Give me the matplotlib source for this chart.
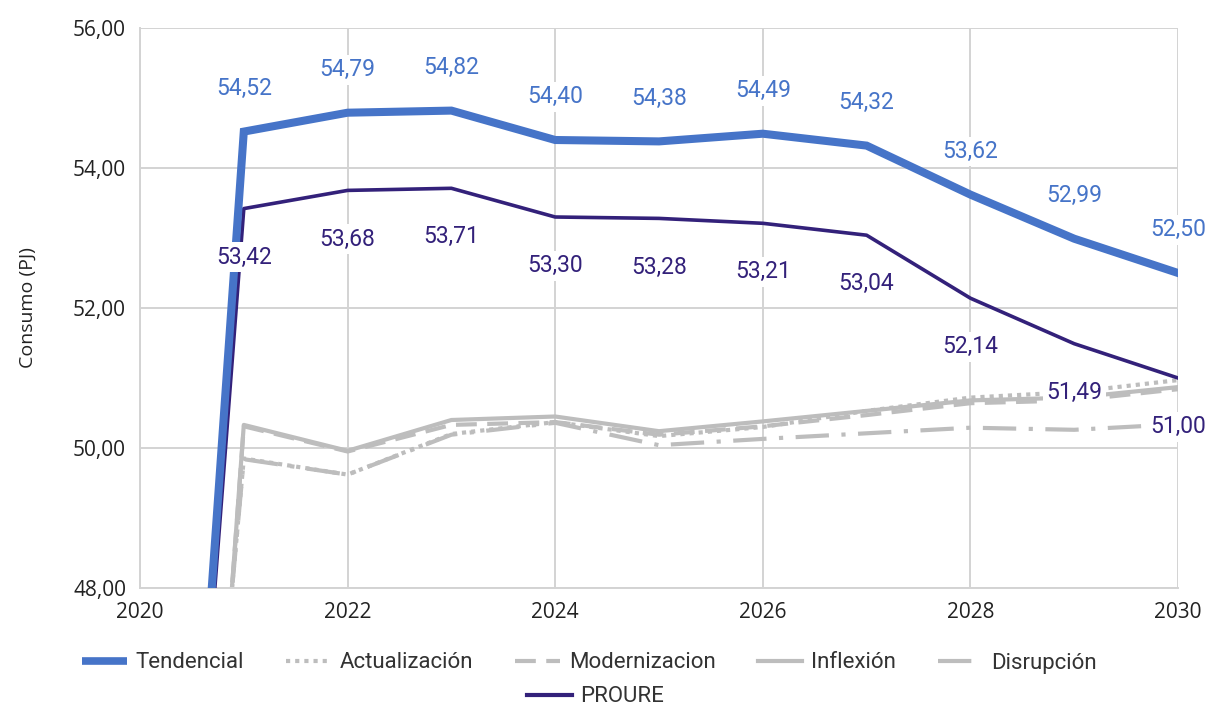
import matplotlib
matplotlib.use("Agg")
import matplotlib.pyplot as plt
from matplotlib.lines import Line2D
from matplotlib.ticker import FuncFormatter, MultipleLocator

# Consumo proyectado por escenario (PJ)
years = [2020, 2021, 2022, 2023, 2024, 2025, 2026, 2027, 2028, 2029, 2030]
tendencial = [33.4, 54.52, 54.79, 54.82, 54.40, 54.38, 54.49, 54.32, 53.62, 52.99, 52.50]
proure = [34.0, 53.42, 53.68, 53.71, 53.30, 53.28, 53.21, 53.04, 52.14, 51.49, 51.00]
actualizacion = [33.5, 49.85, 49.62, 50.20, 50.37, 50.17, 50.30, 50.53, 50.72, 50.80, 50.97]
modernizacion = [30.0, 50.31, 49.95, 50.33, 50.37, 50.19, 50.31, 50.47, 50.64, 50.68, 50.84]
inflexion = [30.0, 50.33, 49.96, 50.40, 50.45, 50.24, 50.38, 50.53, 50.68, 50.72, 50.87]
disrupcion = [33.5, 49.84, 49.62, 50.19, 50.36, 50.04, 50.13, 50.21, 50.29, 50.26, 50.34]

BLUE = "#4674c8"
PURPLE = "#33217a"
GRAY = "#bdbdbd"
GRID = "#d3d3d3"

fig = plt.figure(figsize=(12.11, 7.06), dpi=100)
ax = fig.add_axes([140 / 1211, 1 - 588 / 706, (1178 - 140) / 1211, (588 - 28) / 706])

gray_styles = [
    ("Actualización", actualizacion, (0, (1.0, 1.2))),
    ("Modernizacion", modernizacion, (0, (5, 2.5))),
    ("Inflexión", inflexion, "-"),
    ("Disrupción", disrupcion, (0, (8, 3, 1, 3))),
]
handles = [Line2D([], [], color=BLUE, lw=5.5, solid_capstyle="butt")]
labels = ["Tendencial"]
for name, vals, ls in gray_styles:
    ax.plot(years, vals, color=GRAY, lw=3, linestyle=ls, zorder=2)
    handles.append(Line2D([], [], color=GRAY, lw=3, linestyle=ls))
    labels.append(name)

ax.plot(years, proure, color=PURPLE, lw=2.6, zorder=3)
ax.plot(years, tendencial, color=BLUE, lw=5.8, zorder=4, solid_joinstyle="miter")

fmt = lambda v: f"{v:.2f}".replace(".", ",")
box = dict(boxstyle="square,pad=0.15", fc="white", ec="none")
for x, v in zip(years[1:], tendencial[1:]):
    ax.annotate(fmt(v), (x, v), xytext=(0, 31), textcoords="offset points",
                ha="center", va="center", color=BLUE, fontsize=16.5,
                family="Roboto", bbox=box, zorder=6, annotation_clip=False)
for x, v in zip(years[1:], proure[1:]):
    ax.annotate(fmt(v), (x, v), xytext=(0, -35), textcoords="offset points",
                ha="center", va="center", color=PURPLE, fontsize=16.5,
                family="Roboto", bbox=box, zorder=6, annotation_clip=False)

ax.set_xlim(2020, 2030)
ax.set_ylim(48, 56)
ax.xaxis.set_major_locator(MultipleLocator(2))
ax.yaxis.set_major_locator(MultipleLocator(2))
ax.yaxis.set_major_formatter(FuncFormatter(lambda v, p: fmt(v)))
ax.grid(True, color=GRID, lw=1.4, zorder=0)
ax.set_axisbelow(True)
ax.tick_params(length=0, labelsize=15, colors="#222222", pad=10)
for lab in ax.get_xticklabels() + ax.get_yticklabels():
    lab.set_family("Open Sans")
for side in ["top", "right"]:
    ax.spines[side].set_visible(False)
for side in ["left", "bottom"]:
    ax.spines[side].set_color(GRID)
    ax.spines[side].set_linewidth(1.4)
ax.set_ylabel("Consumo (PJ)", fontsize=14, family="Open Sans", color="#222222", labelpad=26)

leg_kw = dict(frameon=False, prop={"family": "Roboto", "size": 16}, labelcolor="#333333",
              handlelength=2.0, handletextpad=0.4, borderaxespad=0)
fig.legend(handles, labels, loc="center", bbox_to_anchor=(0.487, 1 - 663 / 706),
           ncol=5, columnspacing=1.9, **leg_kw)
fig.legend([Line2D([], [], color=PURPLE, lw=3)], ["PROURE"], loc="center",
           bbox_to_anchor=(0.492, 1 - 697 / 706), **leg_kw)

fig.savefig("out.png", dpi=100)
